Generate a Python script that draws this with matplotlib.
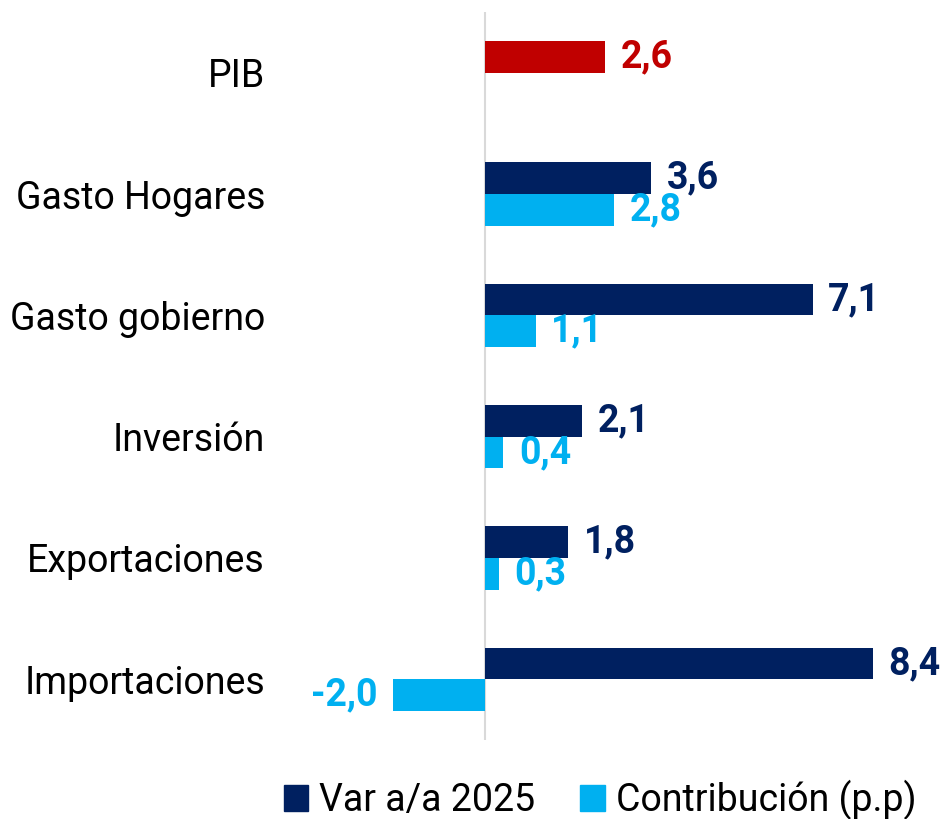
import matplotlib
matplotlib.use("Agg")
import matplotlib.pyplot as plt
from matplotlib.patches import Patch
import numpy as np

categories = ["PIB", "Gasto Hogares", "Gasto gobierno", "Inversión", "Exportaciones", "Importaciones"]
var_2025 = [2.6, 3.6, 7.1, 2.1, 1.8, 8.4]
contribucion = [None, 2.8, 1.1, 0.4, 0.3, -2.0]
series_names = ["Var a/a 2025", "Contribución (p.p)"]

NAVY = "#002060"
LIGHT = "#00B0F0"
RED = "#C00000"

plt.rcParams['font.family'] = ['Roboto', 'DejaVu Sans']

W, H = 946, 819
fig = plt.figure(figsize=(W / 100, H / 100), dpi=100)
ax_left_px, ax_right_px = 290, 940
ax_top_px, ax_bot_px = 12, 740
ax = fig.add_axes([ax_left_px / W, 1 - ax_bot_px / H, (ax_right_px - ax_left_px) / W, (ax_bot_px - ax_top_px) / H])

ppu = 46.2
zero_px = 485
ax.set_xlim(-(zero_px - ax_left_px) / ppu, (ax_right_px - zero_px) / ppu)
ax.set_ylim(len(categories) - 0.5, -0.5)

h = 0.26
y = np.arange(len(categories))
fs = 27

def fmt(v):
    return f"{v:.1f}".replace(".", ",")

for i, cat in enumerate(categories):
    v = var_2025[i]
    c = RED if cat == "PIB" else NAVY
    ax.barh(y[i] - h / 2, v, height=h, color=c)
    ax.annotate(fmt(v), (v, y[i] - h / 2), xytext=(11 if v >= 0 else -11, 0), textcoords="offset points",
                ha="left" if v >= 0 else "right", va="center", fontsize=fs, fontweight="bold", color=c)
    cv = contribucion[i]
    if cv is not None:
        ax.barh(y[i] + h / 2, cv, height=h, color=LIGHT)
        ax.annotate(fmt(cv), (cv, y[i] + h / 2), xytext=(11 if cv >= 0 else -11, 0), textcoords="offset points",
                    ha="left" if cv >= 0 else "right", va="center", fontsize=fs, fontweight="bold", color=LIGHT)

ax.axvline(0, color="#d9d9d9", lw=1.5, zorder=0)
for s in ax.spines.values():
    s.set_visible(False)
ax.set_xticks([])
ax.set_yticks(y)
ax.set_yticklabels(categories, fontsize=fs)
ax.tick_params(axis="y", length=0, pad=18)

handles = [Patch(color=NAVY, label=series_names[0]), Patch(color=LIGHT, label=series_names[1])]
fig.legend(handles=handles, loc="center", bbox_to_anchor=(600 / W, 1 - 800 / H), ncol=2, frameon=False,
           fontsize=fs, handlelength=0.65, handleheight=0.65, handletextpad=0.3, columnspacing=1.2)

fig.savefig("out.png", dpi=100)
